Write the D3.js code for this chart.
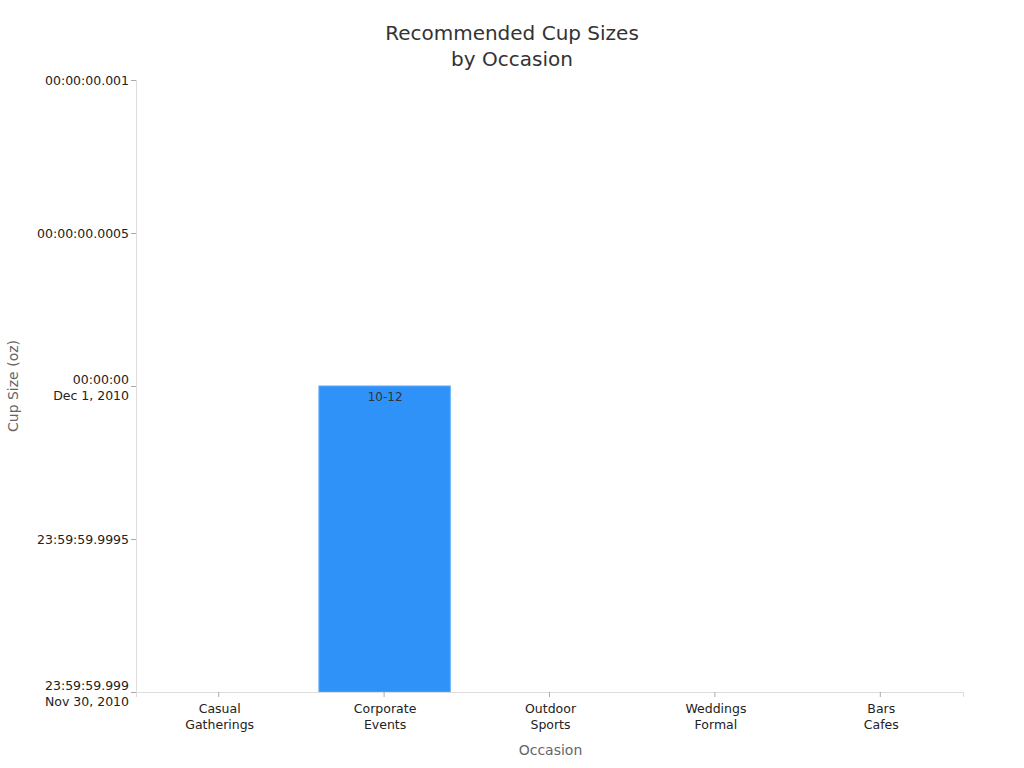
<!DOCTYPE html>
<html>
<head>
<meta charset="utf-8">
<script src="https://cdn.jsdelivr.net/npm/d3@7"></script>
<style>
  body { margin: 0; background: #fff; }
  text { font-family: "DejaVu Sans", sans-serif; }
</style>
</head>
<body>
<div id="chart"></div>
<script>
// categories (two lines each)
var occasions = [["Casual", "Gatherings"], ["Corporate", "Events"], ["Outdoor", "Sports"],
                 ["Weddings", "Formal"], ["Bars", "Cafes"]];
// bar labels as shown, and the value each was placed at (ms offset from Dec 1 2010 00:00:00)
var sizeLabels = [null, "10-12", null, null, null];
var sizeValues = [null, 0, null, null, null];
// y ticks (ms offsets) and their labels
var yTicks = [-1, -0.5, 0, 0.5, 1];
var yTickLabels = [["23:59:59.999", "Nov 30, 2010"], ["23:59:59.9995"], ["00:00:00", "Dec 1, 2010"],
                   ["00:00:00.0005"], ["00:00:00.001"]];

var width = 1024, height = 768,
	margin = {top: 80, right: 61, bottom: 76, left: 136};

var svg = d3.select("#chart").append("svg")
	.attr("width", width)
	.attr("height", height);

var x = d3.scaleBand()
	.domain(d3.range(occasions.length))
	.range([margin.left, width - margin.right])
	.paddingInner(0.2)
	.paddingOuter(0.1);

var y = d3.scaleLinear()
	.domain([-1, 1])
	.range([height - margin.bottom, margin.top]);

// title
svg.append("text")
	.attr("x", 512)
	.attr("y", 40)
	.attr("text-anchor", "middle")
	.style("font-size", "20px")
	.style("fill", "#333")
	.selectAll("tspan")
	.data(["Recommended Cup Sizes", "by Occasion"])
	.enter().append("tspan")
	.attr("x", 512)
	.attr("dy", function(d, i) { return i ? 26 : 0; })
	.text(function(d) { return d; });

// bars
var data = occasions.map(function(d, i) { return {i: i, label: sizeLabels[i], v: sizeValues[i]}; })
	.filter(function(d) { return d.v != null; });

svg.selectAll(".bar")
	.data(data)
	.enter().append("rect")
	.attr("class", "bar")
	.attr("x", function(d) { return x(d.i) + 1; })
	.attr("y", function(d) { return y(d.v); })
	.attr("width", x.bandwidth() - 1)
	.attr("height", function(d) { return y(-1) - y(d.v); })
	.style("fill", "#2f92f8")
	.style("stroke", "#5aa9fa")
	.style("stroke-width", 1);

svg.selectAll(".barlabel")
	.data(data)
	.enter().append("text")
	.attr("x", function(d) { return x(d.i) + x.bandwidth() / 2 + 1; })
	.attr("y", function(d) { return y(d.v) + 15; })
	.attr("text-anchor", "middle")
	.style("font-size", "12px")
	.style("fill", "#333")
	.text(function(d) { return d.label; });

// y axis
var yAxis = svg.append("g")
	.attr("transform", "translate(" + margin.left + ",0)")
	.call(d3.axisLeft(y).tickValues(yTicks).tickSize(5).tickPadding(3).tickFormat(""));
yAxis.select(".domain").style("stroke", "#ddd");
yAxis.selectAll(".tick line").style("stroke", "#aaa");
yAxis.selectAll(".tick").each(function(d, i) {
	var lines = yTickLabels[i];
	var t = d3.select(this).append("text")
		.attr("x", -7)
		.attr("text-anchor", "end")
		.style("font-size", "12.5px")
		.style("fill", "#222");
	lines.forEach(function(s, j) {
		t.append("tspan")
			.attr("x", -7)
			.attr("y", lines.length > 1 ? (j === 0 ? -3 : 13) : 4)
			.text(s);
	});
});

// x axis
var xAxis = svg.append("g")
	.attr("transform", "translate(0," + (height - margin.bottom) + ")")
	.call(d3.axisBottom(x).tickSize(5).tickFormat(""));
xAxis.select(".domain").style("stroke", "#ddd");
xAxis.selectAll(".tick line").style("stroke", "#aaa");
xAxis.selectAll(".tick").each(function(d) {
	var t = d3.select(this).append("text")
		.attr("text-anchor", "middle")
		.style("font-size", "12.5px")
		.style("fill", "#222");
	occasions[d].forEach(function(s, j) {
		t.append("tspan")
			.attr("x", 1)
			.attr("y", 21 + j * 16)
			.text(s);
	});
});

// axis titles
svg.append("text")
	.attr("x", x.range()[0] + (x.range()[1] - x.range()[0]) / 2 + 1)
	.attr("y", 755)
	.attr("text-anchor", "middle")
	.style("font-size", "14px")
	.style("fill", "#666")
	.text("Occasion");

svg.append("text")
	.attr("transform", "translate(18," + y(0) + ") rotate(-90)")
	.attr("text-anchor", "middle")
	.style("font-size", "14px")
	.style("fill", "#666")
	.text("Cup Size (oz)");
</script>
</body>
</html>
